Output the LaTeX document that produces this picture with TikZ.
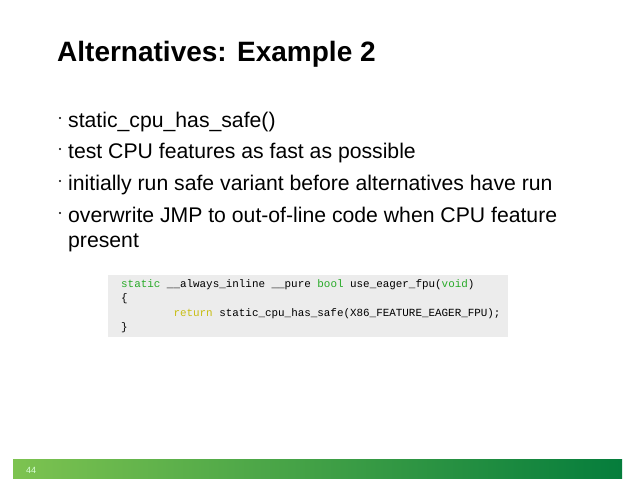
\documentclass[tikz,border=0pt]{standalone}
\usepackage{fontspec}
\setmainfont{Liberation Sans}
\setmonofont{Liberation Mono}
\definecolor{kwg}{RGB}{40,170,40}
\definecolor{kwy}{RGB}{200,190,20}
\definecolor{codebg}{RGB}{236,236,236}
\definecolor{gl}{RGB}{125,195,80}
\definecolor{gr}{RGB}{5,125,60}
\begin{document}
\begin{tikzpicture}[x=1pt,y=-1pt,
  bul/.style={anchor=base west,font=\fontsize{21.2}{24}\selectfont,inner sep=0},
  code/.style={anchor=base west,font=\ttfamily\fontsize{10.9}{13}\selectfont,inner sep=0}]
\useasboundingbox (0,0) rectangle (638,479);
\fill[white] (0,0) rectangle (638,479);
\node[anchor=base west,inner sep=0,font=\bfseries\fontsize{28}{32}\selectfont] (title) at (57,61) {Alternatives: Example 2};
\foreach \y/\t [count=\i] in {127/{static\_cpu\_has\_safe()},158/{test CPU features as fast as possible},190/{initially run safe variant before alternatives have run},222/{overwrite JMP to out-of-line code when CPU feature}}{
  \node[bul] (b\i) at (68,\y) {\t};
  \fill (60,\y-9) circle (1.2);
}
\node[bul] (b5) at (68,247) {present};
\fill[codebg] (108,275) rectangle (508,337);
\node[code] (c1) at (121,287) {\textcolor{kwg}{static} \_\_always\_inline \_\_pure \textcolor{kwg}{bool} use\_eager\_fpu(\textcolor{kwg}{void})};
\node[code] (c2) at (121,301) {\{};
\node[code] (c3) at (121,316) {\phantom{xxxxxxxx}\textcolor{kwy}{return} static\_cpu\_has\_safe(X86\_FEATURE\_EAGER\_FPU);};
\node[code] (c4) at (121,330) {\}};
\shade[left color=gl,right color=gr] (13,459) rectangle (622,478);
\node[anchor=base west,inner sep=0,text=white!85!green,font=\fontsize{9}{10}\selectfont] (pg) at (26,473) {44};
\end{tikzpicture}
\end{document}
